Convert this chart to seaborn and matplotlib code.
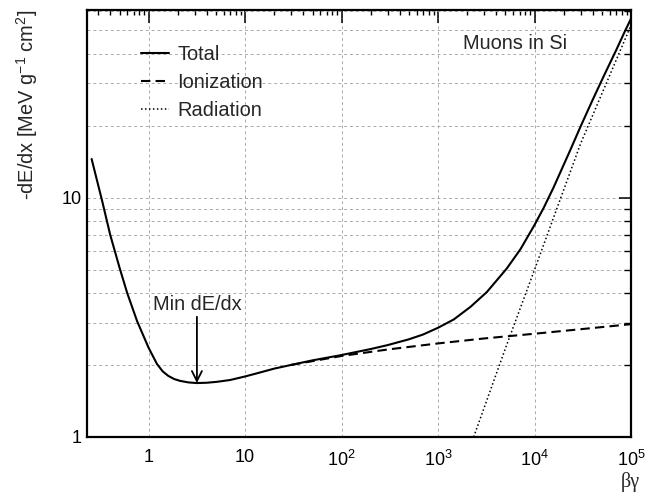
import matplotlib
matplotlib.use("Agg")
import numpy as np
import matplotlib.pyplot as plt
import seaborn as sns
from matplotlib.ticker import FixedLocator, FuncFormatter, NullFormatter

# Stopping power of muons in silicon, as (beta*gamma, -dE/dx) pairs
bg_total = [0.257, 0.33, 0.40, 0.50, 0.60, 0.76, 1.0, 1.22, 1.4, 1.6, 1.85,
            2.13, 2.6, 3.17, 4.0, 5.1, 7.0, 10, 14.3, 20, 30, 50, 100, 200,
            300, 500, 700, 1000, 1460, 2174, 3200, 5140, 7130, 1e4, 1.25e4,
            1.57e4, 2.33e4, 2.98e4, 4e4, 5.18e4, 7.05e4, 8.63e4, 1e5]
dedx_total = [14.5, 9.7, 7.0, 5.1, 4.0, 3.05, 2.36, 2.02, 1.88, 1.80, 1.745,
              1.715, 1.69, 1.68, 1.685, 1.70, 1.73, 1.79, 1.86, 1.93, 2.0, 2.09, 2.20, 2.33,
              2.42, 2.56, 2.68, 2.86, 3.10, 3.50, 4.03, 5.05, 6.08, 7.69, 9.1,
              11.0, 15.7, 19.7, 25.6, 32.0, 41.5, 49.5, 56.0]

bg_ion = [30, 100, 300, 1000, 3000, 1e4, 3e4, 1e5]
dedx_ion = [2.0, 2.18, 2.32, 2.46, 2.58, 2.70, 2.82, 2.96]

bg_rad = [2340, 5000, 1e4, 3e4, 1e5]
dedx_rad = [1.0, 2.35, 5.0, 16.8, 52.5]

x_major = [1, 10, 100, 1000, 1e4, 1e5]
x_labels = ["1", "10", "$10^{2}$", "$10^{3}$", "$10^{4}$", "$10^{5}$"]
y_major = [1, 10]
y_labels = ["1", "10"]

sns.set_theme(style="white")
plt.rcParams["font.family"] = ["Liberation Sans", "DejaVu Sans"]
plt.rcParams["mathtext.fontset"] = "custom"
plt.rcParams["mathtext.rm"] = "Liberation Sans"
plt.rcParams["mathtext.it"] = "Liberation Sans:italic"
plt.rcParams["mathtext.bf"] = "Liberation Sans:bold"

fig = plt.figure(figsize=(6.55, 4.95), dpi=100)
ax = fig.add_axes([0.1328, 0.1172, 0.8306, 0.8626])
ax.set_xscale("log")
ax.set_yscale("log")

sns.lineplot(x=bg_total, y=dedx_total, ax=ax, color="black", lw=1.5,
             sort=False, estimator=None, label="Total")
sns.lineplot(x=bg_ion, y=dedx_ion, ax=ax, color="black", lw=1.5,
             sort=False, estimator=None, label="Ionization")
ax.lines[-1].set_dashes((4.5, 2.5))
sns.lineplot(x=bg_rad, y=dedx_rad, ax=ax, color="black", lw=1.1,
             sort=False, estimator=None, label="Radiation")
ax.lines[-1].set_linestyle((0, (1, 1.6)))

ax.set_xlim(0.23, 1e5)
ax.set_ylim(1, 60.8)

# ticks: decades labelled, 2..9 sub-ticks unlabelled
x_minor = [m * 10.0 ** e for e in range(-1, 5) for m in range(2, 10)]
y_minor = [m * 10.0 ** e for e in range(0, 2) for m in range(2, 10)]
ax.xaxis.set_major_locator(FixedLocator(x_major))
ax.xaxis.set_minor_locator(FixedLocator(x_minor))
ax.yaxis.set_major_locator(FixedLocator(y_major))
ax.yaxis.set_minor_locator(FixedLocator(y_minor))
ax.xaxis.set_major_formatter(FuncFormatter(lambda v, p: x_labels[x_major.index(v)] if v in x_major else ""))
ax.yaxis.set_major_formatter(FuncFormatter(lambda v, p: y_labels[y_major.index(v)] if v in y_major else ""))
ax.xaxis.set_minor_formatter(NullFormatter())
ax.yaxis.set_minor_formatter(NullFormatter())
ax.tick_params(which="both", direction="in", top=True, right=True,
               color="black", labelsize=13, labelcolor="black")
ax.tick_params(which="major", length=9, width=1.1)
ax.tick_params(axis="x", which="minor", length=3.8, width=1.0)
ax.tick_params(axis="y", which="minor", length=5.4, width=1.0)
ax.tick_params(axis="x", which="major", pad=9)
ax.tick_params(axis="y", which="major", pad=4)

# grid
ax.grid(False)
ax.grid(True, which="major", axis="x", color="#aaaaaa", lw=0.7, ls=(0, (3, 3)))
ax.grid(True, which="both", axis="y", color="#aaaaaa", lw=0.7, ls=(0, (3, 3)))
ax.set_axisbelow(True)

for s in ax.spines.values():
    s.set_color("black")
    s.set_linewidth(1.6)

# axis titles
ax.set_xlabel("βγ", loc="right", fontsize=14.5, family=["Liberation Serif", "DejaVu Serif"])
ax.xaxis.set_label_coords(1.017, -0.083)
ax.set_ylabel("-dE/dx [MeV g$^{-1}$ cm$^{2}$]", loc="top", fontsize=14.4)
ax.yaxis.set_label_coords(-0.086, 1.0)

# legend
leg = ax.legend(loc="upper left", bbox_to_anchor=(0.1, 0.919), frameon=False,
                fontsize=14.4, handlelength=1.4, handletextpad=0.4,
                labelspacing=0.47, borderaxespad=0, borderpad=0)

ax.text(0.882, 0.922, "Muons in Si", transform=ax.transAxes, ha="right",
        va="center", fontsize=14.4)

imin = int(np.argmin(dedx_total))
ax.annotate("Min dE/dx", xy=(bg_total[imin], dedx_total[imin]),
            xytext=(bg_total[imin], 3.28), ha="center", va="bottom", fontsize=14.4,
            arrowprops=dict(arrowstyle="->,head_width=0.25,head_length=0.5",
                            color="black", lw=1.3, shrinkA=0, shrinkB=0))

fig.savefig("out.png", dpi=100, facecolor="white")
